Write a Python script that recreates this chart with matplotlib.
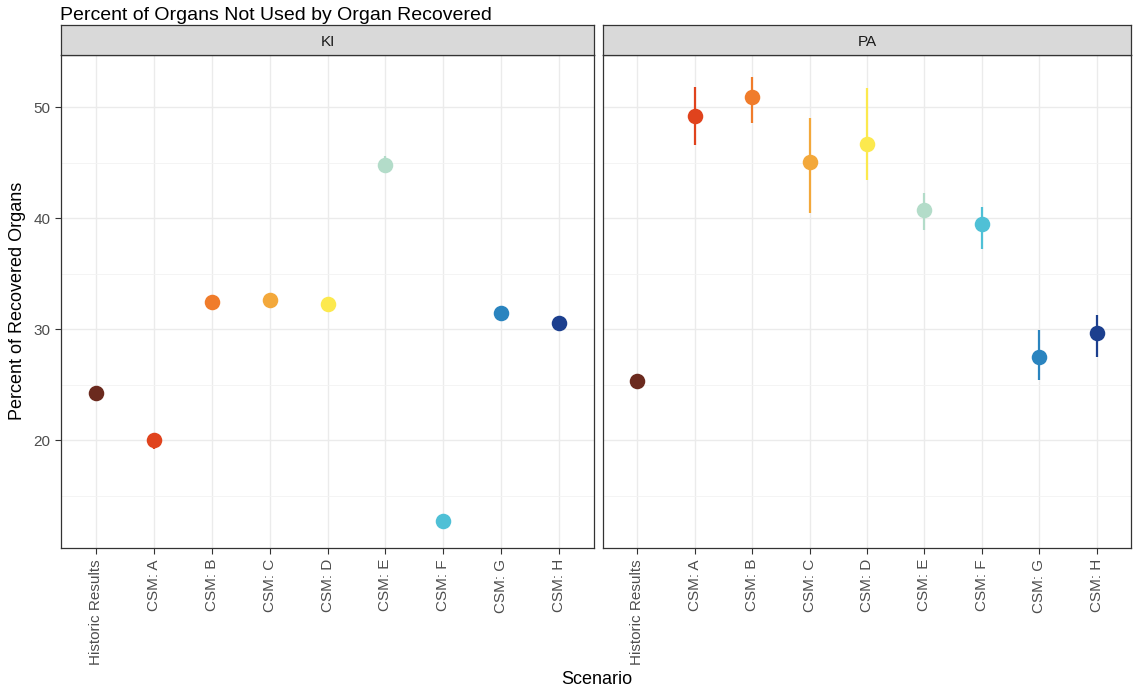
import numpy as np
import matplotlib.pyplot as plt
from matplotlib.ticker import MultipleLocator

plt.rcParams["font.family"] = ["Liberation Sans", "DejaVu Sans"]

scenarios = ["Historic Results", "CSM: A", "CSM: B", "CSM: C", "CSM: D",
             "CSM: E", "CSM: F", "CSM: G", "CSM: H"]
colors = ["#6B2A1E", "#E0431D", "#F07C2B", "#F3A83B", "#FCE94E",
          "#B3DCC9", "#4FC0D6", "#2A84BF", "#1C3F8E"]

# KI panel
ki_mean = [24.3, 20.0, 32.5, 32.6, 32.3, 44.8, 12.7, 31.5, 30.6]
ki_low = [24.1, 19.2, 32.0, 32.2, 31.9, 44.2, 12.5, 31.2, 30.3]
ki_high = [24.5, 20.3, 32.9, 32.9, 32.6, 45.6, 12.9, 31.8, 30.9]

# PA panel
pa_mean = [25.3, 49.2, 50.9, 45.1, 46.7, 40.7, 39.5, 27.5, 29.7]
pa_low = [25.1, 46.6, 48.6, 40.5, 43.4, 38.9, 37.2, 25.4, 27.5]
pa_high = [25.5, 51.8, 52.7, 49.0, 51.7, 42.3, 41.0, 29.9, 31.3]

panels = [("KI", ki_mean, ki_low, ki_high), ("PA", pa_mean, pa_low, pa_high)]

fig = plt.figure(figsize=(11.33, 6.92), dpi=100)
W, H = 1133, 692
lefts = [61, 603]
rights = [594, 1131]
top, bottom, strip_h = 55, 548, 30

x = np.arange(1, len(scenarios) + 1)
for i, (name, mean, low, high) in enumerate(panels):
    l, r = lefts[i], rights[i]
    ax = fig.add_axes([l / W, 1 - bottom / H, (r - l) / W, (bottom - top) / H])
    ax.set_xlim(0.4, 9.6)
    ax.set_ylim(10.3, 54.7)
    ax.yaxis.set_major_locator(MultipleLocator(10))
    ax.yaxis.set_minor_locator(MultipleLocator(5))
    ax.grid(which="major", color="#EBEBEB", lw=1.0)
    ax.grid(which="minor", axis="y", color="#F3F3F3", lw=0.6)
    ax.set_axisbelow(True)
    for j in range(len(scenarios)):
        ax.vlines(x[j], low[j], high[j], color=colors[j], lw=1.6, zorder=3)
        ax.scatter(x[j], mean[j], s=125, color=colors[j], zorder=4, linewidths=0)
    ax.set_xticks(x)
    ax.set_xticklabels(scenarios, rotation=90, fontsize=11, color="#4D4D4D")
    ax.tick_params(axis="both", which="major", length=4, color="#333333", width=0.8)
    ax.tick_params(axis="x", pad=4)
    ax.tick_params(axis="y", which="minor", length=0)
    ax.tick_params(axis="y", labelsize=11, labelcolor="#4D4D4D")
    if i > 0:
        ax.tick_params(axis="y", which="both", left=False, labelleft=False)
    for s in ax.spines.values():
        s.set_color("#333333")
        s.set_linewidth(0.9)

    sax = fig.add_axes([l / W, 1 - top / H, (r - l) / W, strip_h / H])
    sax.set_facecolor("#D9D9D9")
    sax.set_xticks([])
    sax.set_yticks([])
    for s in sax.spines.values():
        s.set_color("#333333")
        s.set_linewidth(0.9)
    sax.text(0.5, 0.45, name, ha="center", va="center", fontsize=11,
             color="#1A1A1A", transform=sax.transAxes)

fig.text(60 / W, 1 - 15 / H, "Percent of Organs Not Used by Organ Recovered",
         fontsize=14, ha="left", va="center")
fig.text(18 / W, 1 - 301 / H, "Percent of Recovered Organs", fontsize=13,
         rotation=90, ha="center", va="center")
fig.text(597 / W, 1 - 679 / H, "Scenario", fontsize=13, ha="center", va="center")

fig.savefig("out.png", dpi=100)
